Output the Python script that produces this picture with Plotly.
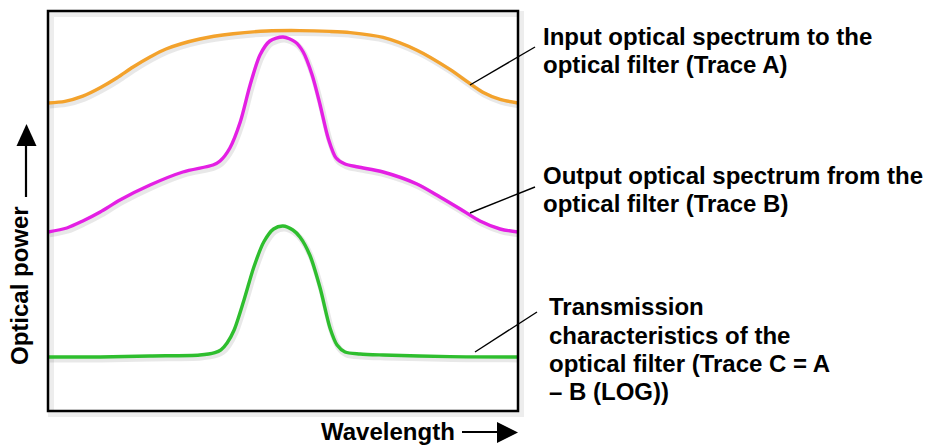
import plotly.graph_objects as go

# ---------------- data (arbitrary units: wavelength 0-100, power 0-100) ----------------
wl_a = [0, 3.6, 7.4, 11.1, 14.7, 18.1, 21.7, 25.1, 32.3, 39.4, 46.6, 53.6, 60.0, 64.3, 71.3, 78.5, 85.5, 89.1, 92.5, 96.2, 100]
pw_a = [77, 77.4, 78.7, 80.8, 83.3, 86, 88.5, 90.5, 93.0, 94.3, 95.0, 95.1, 94.9, 94.6, 93.4, 90.2, 85.4, 82.4, 79.7, 77.9, 77]

wl_b = [0, 4.0, 7.4, 11.1, 15.3, 21.7, 28.7, 35.1, 36.6, 38.7, 40.9, 43.0, 45.1, 47.2, 50.0, 52.6, 54.3,
        56.2, 57.9, 59.6, 61.3, 63.2, 66.0, 71.3, 78.5, 83.4, 87.7, 91.9, 96.2, 100]
pw_b = [44.75, 45.75, 47.5, 49.75, 52.75, 56.5, 59.75, 61.5, 62.5, 65.75, 72.25, 81.5, 89.0, 92.5, 93.5, 92.25, 89.75,
        84.0, 76.5, 68.25, 63.25, 61.75, 61.0, 59.75, 56.75, 53.5, 50.5, 47.5, 45.5, 44.75]

wl_c = [0, 11.1, 21.7, 32.3, 35.5, 36.8, 38.1, 39.6, 41.7, 43.8, 45.9, 48.0, 50.0, 52.1, 53.6, 55.7, 57.9, 60.0,
        61.5, 63.2, 66.4, 71.3, 85.5, 100]
pw_c = [13.5, 13.5, 13.75, 14, 14.6, 15.3, 17.0, 20.25, 27.75, 36.0, 42.25, 45.5, 46.25, 45.25, 43.5, 39.0, 30.75,
        20.75, 16.5, 14.75, 14.25, 14.0, 13.6, 13.5]

label_a = ["Input optical spectrum to the", "optical filter (Trace A)"]
label_b = ["Output optical spectrum from the", "optical filter (Trace B)"]
label_c = ["Transmission", "characteristics of the", "optical filter (Trace C = A", "\u2013 B (LOG))"]
y_title = "Optical power"
x_title = "Wavelength"

# ---------------- layout helpers ----------------
W, H = 926, 445
L, R, T, B = 48, 518, 11, 411


def px(x):
    return (x - L) / (R - L)


def py(y):
    return (B - y) / (B - T)


COL_A = "#F3A22C"
COL_B = "#E41FE4"
COL_C = "#2EBE2E"
FONT = "Arial, 'Liberation Sans', sans-serif"

fig = go.Figure()

series = [(wl_a, pw_a, COL_A), (wl_b, pw_b, COL_B), (wl_c, pw_c, COL_C)]

# soft drop shadows (drawn on the base axes, shifted range)
for xs, ys, c in series:
    fig.add_trace(go.Scatter(x=xs, y=ys, mode="lines", xaxis="x", yaxis="y",
                             line=dict(color="rgba(0,0,0,0.09)", width=6, shape="spline", smoothing=0.8),
                             hoverinfo="skip", showlegend=False))

for xs, ys, c in series:
    fig.add_trace(go.Scatter(x=xs, y=ys, mode="lines", xaxis="x2", yaxis="y2",
                             line=dict(color=c, width=3.4, shape="spline", smoothing=0.8),
                             showlegend=False))

shapes = []
# box shadow
shapes.append(dict(type="rect", xref="paper", yref="paper", x0=px(L + 3), x1=px(R + 3), y0=py(B + 3), y1=py(T + 3),
                   line=dict(color="rgba(0,0,0,0.07)", width=6), layer="below"))
# plot box
shapes.append(dict(type="rect", xref="paper", yref="paper", x0=0, x1=1, y0=0, y1=1,
                   line=dict(color="black", width=2.5)))
# leader lines
for (x0, y0, x1, y1) in [(470, 85, 535, 47), (470, 213, 535, 187), (475, 352, 537, 312)]:
    shapes.append(dict(type="line", xref="paper", yref="paper", x0=px(x0), y0=py(y0), x1=px(x1), y1=py(y1),
                       line=dict(color="black", width=1.4)))
# y-axis arrow
shapes.append(dict(type="line", xref="paper", yref="paper", x0=px(26), x1=px(26), y0=py(197), y1=py(143),
                   line=dict(color="black", width=2.2)))
shapes.append(dict(type="path", xref="paper", yref="paper",
                   path=f"M {px(16.5)},{py(146)} L {px(36.5)},{py(146)} L {px(26.5)},{py(124)} Z",
                   fillcolor="black", line=dict(color="black", width=0)))
# x-axis arrow
shapes.append(dict(type="line", xref="paper", yref="paper", x0=px(462), x1=px(500), y0=py(432), y1=py(432),
                   line=dict(color="black", width=2.2)))
shapes.append(dict(type="path", xref="paper", yref="paper",
                   path=f"M {px(497)},{py(422)} L {px(497)},{py(443)} L {px(518)},{py(432.5)} Z",
                   fillcolor="black", line=dict(color="black", width=0)))

annotations = []


def add_block(lines, x_left, y_mids):
    for txt, ym in zip(lines, y_mids):
        annotations.append(dict(text=f"<b>{txt}</b>", xref="paper", yref="paper", x=px(x_left), y=py(ym),
                                xanchor="left", yanchor="middle", showarrow=False,
                                font=dict(family=FONT, size=24, color="black")))


add_block(label_a, 541, [36.3, 64.7])
add_block(label_b, 541, [175, 203.7])
add_block(label_c, 547, [306.7, 335.3, 363.8, 391.7])

annotations.append(dict(text=f"<b>{y_title}</b>", xref="paper", yref="paper", x=px(19), y=py(286),
                        xanchor="center", yanchor="middle", textangle=-90, showarrow=False,
                        font=dict(family=FONT, size=24, color="black")))
annotations.append(dict(text=f"<b>{x_title}</b>", xref="paper", yref="paper", x=px(387.5), y=py(431.5),
                        xanchor="center", yanchor="middle", showarrow=False,
                        font=dict(family=FONT, size=24, color="black")))

axis_hidden = dict(visible=False, showgrid=False, zeroline=False, fixedrange=True)

fig.update_layout(
    width=W, height=H,
    margin=dict(l=L, r=W - R, t=T, b=H - B, pad=0),
    paper_bgcolor="white", plot_bgcolor="white",
    xaxis=dict(range=[-1.5 / 4.7, 100 - 1.5 / 4.7], **axis_hidden),
    yaxis=dict(range=[0.6, 100.6], **axis_hidden),
    xaxis2=dict(range=[0, 100], overlaying="x", **axis_hidden),
    yaxis2=dict(range=[0, 100], overlaying="y", **axis_hidden),
    shapes=shapes,
    annotations=annotations,
    showlegend=False,
)

fig.write_html("out.html", config={"displayModeBar": False},
               post_script="document.body.style.margin='0px';document.body.style.overflow='hidden';")
